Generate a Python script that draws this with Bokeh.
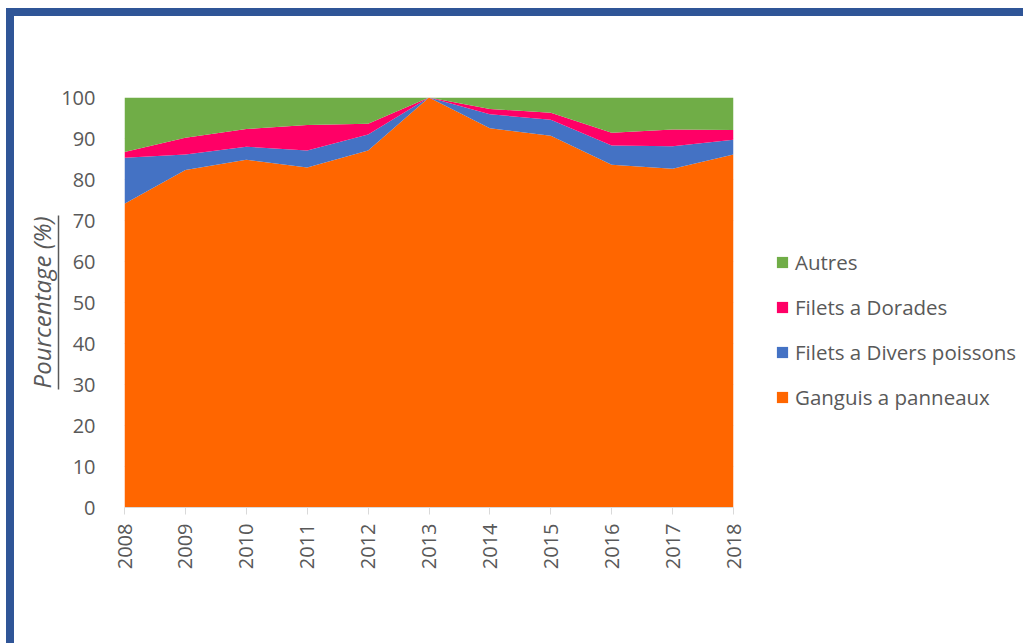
import math
from bokeh.plotting import figure
from bokeh.layouts import row
from bokeh.models import (ColumnDataSource, Legend, LegendItem, FixedTicker, Range1d, LinearAxis)
from bokeh.embed import file_html
from bokeh.resources import INLINE

years = [2008, 2009, 2010, 2011, 2012, 2013, 2014, 2015, 2016, 2017, 2018]
ganguis = [74.1, 82.3, 84.8, 82.9, 87.1, 100.0, 92.5, 90.7, 83.6, 82.6, 86.1]
divers = [11.2, 3.8, 3.2, 4.2, 3.9, 0.0, 3.4, 3.9, 4.7, 5.5, 3.6]
dorades = [1.4, 4.1, 4.3, 6.2, 2.6, 0.0, 1.3, 1.7, 3.1, 4.1, 2.4]
autres = [13.3, 9.8, 7.7, 6.7, 6.4, 0.0, 2.8, 3.7, 8.6, 7.8, 7.9]
series_names = ["Ganguis a panneaux", "Filets a Divers poissons", "Filets a Dorades", "Autres"]
series_colors = ["#FF6600", "#4472C4", "#FF0066", "#70AD47"]
y_ticks = list(range(0, 101, 10))
y_label = "Pourcentage (%)"

src = ColumnDataSource(dict(x=years, g=ganguis, d=divers, o=dorades, a=autres))

FONT = "Open Sans"
GREY = "#595959"
LIGHT = "#D9D9D9"

p = figure(width=739, height=627, output_backend="svg", toolbar_location=None,
           x_range=Range1d(2008, 2018), y_range=Range1d(0, 100), y_axis_location=None,
           min_border_left=110, min_border_right=20, min_border_top=81, min_border_bottom=136)
p.outline_line_color = None
p.xgrid.grid_line_color = None
p.ygrid.grid_line_color = LIGHT
p.ygrid.ticker = FixedTicker(ticks=y_ticks)

rs = p.varea_stack(stackers=["g", "d", "o", "a"], x="x", color=series_colors, source=src)

p.xaxis.ticker = FixedTicker(ticks=years)
p.xaxis.major_label_orientation = math.pi / 2
p.xaxis.axis_line_color = LIGHT
p.xaxis.major_tick_line_color = LIGHT
p.xaxis.major_tick_out = 7
p.xaxis.major_tick_in = 0
p.xaxis.minor_tick_line_color = None
p.xaxis.major_label_standoff = 9
p.xaxis.major_label_text_font = FONT
p.xaxis.major_label_text_font_size = "20px"
p.xaxis.major_label_text_color = GREY

yax = LinearAxis(ticker=FixedTicker(ticks=y_ticks))
yax.axis_line_color = None
yax.major_tick_line_color = None
yax.minor_tick_line_color = None
yax.major_label_standoff = 23
yax.major_label_text_font = FONT
yax.major_label_text_font_size = "20px"
yax.major_label_text_color = GREY
p.add_layout(yax, "left")

# outer axis: carries the title; its bounded axis line acts as the underline
lab = LinearAxis(ticker=FixedTicker(ticks=[]), bounds=(28.8, 71.2))
lab.axis_line_color = GREY
lab.axis_line_width = 1.5
lab.major_tick_line_color = None
lab.minor_tick_line_color = None
lab.major_label_standoff = 0
lab.axis_label = y_label
lab.axis_label_text_font = FONT
lab.axis_label_text_font_style = "italic"
lab.axis_label_text_font_size = "24px"
lab.axis_label_text_color = GREY
lab.axis_label_standoff = 1
p.add_layout(lab, "left")

# legend panel (its stacked areas lie outside its own range, only the legend shows)
p2 = figure(width=270, height=627, output_backend="svg", toolbar_location=None,
            x_range=Range1d(0, 1), y_range=Range1d(0, 100),
            x_axis_location=None, y_axis_location=None,
            min_border_left=0, min_border_right=0, min_border_top=0, min_border_bottom=0)
p2.outline_line_color = None
p2.grid.visible = False
rs2 = p2.varea_stack(stackers=["g", "d", "o", "a"], x="x", color=series_colors, source=src)

legend = Legend(items=[LegendItem(label=series_names[i], renderers=[rs2[i]]) for i in [3, 2, 1, 0]],
                location=(22, 96), orientation="vertical")
legend.border_line_color = None
legend.background_fill_alpha = 0
legend.padding = 0
legend.margin = 0
legend.glyph_width = 14
legend.glyph_height = 14
legend.label_height = 28
legend.spacing = 17
legend.label_standoff = 6
legend.label_text_font = FONT
legend.label_text_font_size = "20.5px"
legend.label_text_color = GREY
p2.add_layout(legend)

layout = row(p, p2, styles={"border-left": "8px solid #2F5597", "border-top": "8px solid #2F5597",
                            "margin-left": "6px", "margin-top": "8px"})

open("out.html", "w").write(file_html(layout, INLINE))
